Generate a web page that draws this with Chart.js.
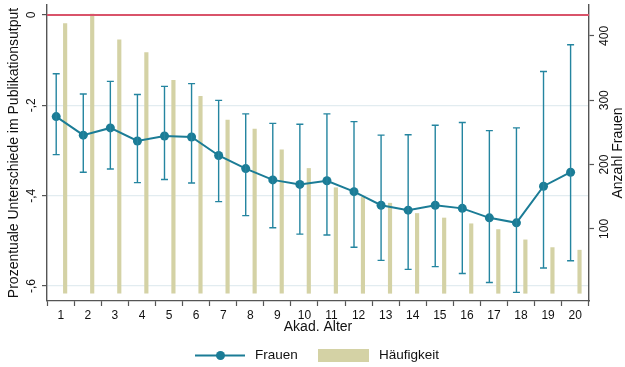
<!DOCTYPE html>
<html>
<head>
<meta charset="utf-8">
<script src="https://cdn.jsdelivr.net/npm/chart.js@4/dist/chart.umd.min.js"></script>
<style>
  html, body { margin: 0; padding: 0; background: #fff; }
  #wrap { width: 625px; height: 367px; position: relative; }
</style>
</head>
<body>
<div id="wrap"><canvas id="c" width="625" height="367"></canvas></div>
<script>
// Akademisches Alter (Jahre seit Promotion)
const ages = [1, 2, 3, 4, 5, 6, 7, 8, 9, 10, 11, 12, 13, 14, 15, 16, 17, 18, 19, 20];
// Prozentuale Unterschiede im Publikationsoutput (Frauen)
const meanDiff = [-0.225, -0.266, -0.250, -0.279, -0.268, -0.270, -0.311, -0.340, -0.365, -0.375,
                  -0.367, -0.391, -0.421, -0.432, -0.421, -0.428, -0.449, -0.460, -0.379, -0.348];
// Konfidenzintervall, obere und untere Grenze
const ciUpper = [-0.130, -0.175, -0.147, -0.176, -0.158, -0.152, -0.189, -0.219, -0.240, -0.242,
                 -0.219, -0.236, -0.266, -0.265, -0.244, -0.238, -0.256, -0.250, -0.125, -0.066];
const ciLower = [-0.309, -0.348, -0.341, -0.371, -0.364, -0.372, -0.413, -0.444, -0.471, -0.485,
                 -0.487, -0.514, -0.543, -0.563, -0.557, -0.572, -0.592, -0.614, -0.560, -0.544];
// Anzahl Frauen je Alter (Häufigkeit)
const counts = [419, 434, 394, 374, 331, 306, 269, 255, 223, 194,
                164, 149, 140, 124, 117, 108, 99, 83, 71, 67];
// Achsenbeschriftungen
const leftTicks = [0, -0.2, -0.4, -0.6];
const leftTickLabels = ['0', '-,2', '-,4', '-,6'];
const rightTicks = [100, 200, 300, 400];
const rightTickLabels = ['100', '200', '300', '400'];

const FONT = "'Liberation Sans', Arial, Helvetica, sans-serif";
const TEAL = '#1b7c96';
const KHAKI = '#d4d2a5';
const AXIS = '#555555';
const GRID = '#e2ecf0';

const errorBarsAndLabels = {
  id: 'errorBarsAndLabels',
  afterDatasetsDraw(chart) {
    const { ctx, scales } = chart;
    const x = scales.x, y = scales.y;
    ctx.save();
    // Konfidenzintervalle
    ctx.strokeStyle = '#2485a0';
    ctx.lineWidth = 1.4;
    ages.forEach((a, i) => {
      const px = x.getPixelForValue(a - 0.17);
      const top = y.getPixelForValue(ciUpper[i]);
      const bot = y.getPixelForValue(ciLower[i]);
      ctx.beginPath();
      ctx.moveTo(px, top); ctx.lineTo(px, bot);
      ctx.moveTo(px - 3.5, top); ctx.lineTo(px + 3.5, top);
      ctx.moveTo(px - 3.5, bot); ctx.lineTo(px + 3.5, bot);
      ctx.stroke();
    });
    // Referenzlinie bei 0
    ctx.strokeStyle = '#d9536a';
    ctx.lineWidth = 2;
    const y0 = y.getPixelForValue(0);
    ctx.beginPath();
    ctx.moveTo(chart.chartArea.left, y0);
    ctx.lineTo(chart.chartArea.right, y0);
    ctx.stroke();
    ctx.restore();
  },
  afterDraw(chart) {
    const { ctx, scales, chartArea } = chart;
    const rot = (text, cx, cy, font) => {
      ctx.save();
      ctx.translate(cx, cy);
      ctx.rotate(-Math.PI / 2);
      ctx.font = font;
      ctx.fillStyle = '#111';
      ctx.textAlign = 'center';
      ctx.textBaseline = 'middle';
      ctx.fillText(text, 0, 0);
      ctx.restore();
    };
    const midY = (chartArea.top + chartArea.bottom) / 2;
    // linke Achse
    leftTicks.forEach((v, i) => rot(leftTickLabels[i], 32, scales.y.getPixelForValue(v), '12px ' + FONT));
    rot('Prozentuale Unterschiede im Publikationsutput', 14, midY, '14px ' + FONT);
    // rechte Achse
    rightTicks.forEach((v, i) => rot(rightTickLabels[i], 605, scales.y2.getPixelForValue(v), '12px ' + FONT));
    rot('Anzahl Frauen', 618, midY, '14px ' + FONT);
    // x-Achsentitel
    ctx.save();
    ctx.font = '14px ' + FONT;
    ctx.fillStyle = '#111';
    ctx.textAlign = 'center';
    ctx.textBaseline = 'middle';
    ctx.fillText('Akad. Alter', (chartArea.left + chartArea.right) / 2, 327);
    // Legende
    const ly = 355.5;
    ctx.strokeStyle = TEAL;
    ctx.lineWidth = 2;
    ctx.beginPath();
    ctx.moveTo(195, ly); ctx.lineTo(245, ly);
    ctx.stroke();
    ctx.fillStyle = TEAL;
    ctx.beginPath();
    ctx.arc(220.5, ly, 4.5, 0, Math.PI * 2);
    ctx.fill();
    ctx.font = '13.5px ' + FONT;
    ctx.fillStyle = '#111';
    ctx.textAlign = 'left';
    ctx.fillText('Frauen', 255, ly);
    ctx.fillStyle = KHAKI;
    ctx.fillRect(318, 349, 51, 13);
    ctx.fillStyle = '#111';
    ctx.fillText('Häufigkeit', 379, ly);
    ctx.restore();
  }
};

new Chart(document.getElementById('c'), {
  type: 'bar',
  data: {
    datasets: [
      {
        type: 'line',
        label: 'Frauen',
        data: ages.map((a, i) => ({ x: a - 0.17, y: meanDiff[i] })),
        yAxisID: 'y',
        borderColor: TEAL,
        backgroundColor: TEAL,
        borderWidth: 2,
        pointRadius: 4.5,
        pointBorderWidth: 0,
        pointBackgroundColor: TEAL,
        tension: 0,
        order: 1
      },
      {
        type: 'bar',
        label: 'Häufigkeit',
        data: ages.map((a, i) => ({ x: a + 0.16, y: counts[i] })),
        yAxisID: 'y2',
        backgroundColor: KHAKI,
        borderWidth: 0,
        barThickness: 3.5,
        order: 2
      }
    ]
  },
  options: {
    responsive: false,
    animation: false,
    layout: { padding: { top: 5, left: 0, right: 0, bottom: 0 } },
    plugins: { legend: { display: false }, tooltip: { enabled: false } },
    scales: {
      x: {
        type: 'linear',
        min: 0.49,
        max: 20.51,
        offset: false,
        afterBuildTicks: s => { s.ticks = ages.map(v => ({ value: v })); },
        afterFit: s => { s.height = 66; },
        ticks: {
          autoSkip: false,
          maxRotation: 0,
          padding: 2,
          color: '#111',
          font: { family: FONT, size: 12 },
          callback: v => String(v)
        },
        grid: { drawOnChartArea: false, drawTicks: true, tickLength: 5, tickColor: AXIS, tickWidth: 1.2 },
        border: { color: AXIS, width: 1.2 }
      },
      y: {
        position: 'left',
        min: -0.633,
        max: 0.022,
        afterBuildTicks: s => { s.ticks = leftTicks.map(v => ({ value: v })); },
        afterFit: s => { s.width = 47; },
        ticks: { display: false },
        grid: {
          color: ctx => (ctx.tick && ctx.tick.value === 0 ? 'rgba(0,0,0,0)' : GRID),
          lineWidth: 1.2,
          drawTicks: true,
          tickLength: 5,
          tickColor: AXIS,
          tickWidth: 1.2
        },
        border: { color: AXIS, width: 1.4 }
      },
      y2: {
        position: 'right',
        min: -12,
        max: 448,
        afterBuildTicks: s => { s.ticks = rightTicks.map(v => ({ value: v })); },
        afterFit: s => { s.width = 36; },
        ticks: { display: false },
        grid: { drawOnChartArea: false, drawTicks: true, tickLength: 5, tickColor: AXIS, tickWidth: 1.2 },
        border: { color: AXIS, width: 1.4 }
      }
    }
  },
  plugins: [errorBarsAndLabels]
});
</script>
</body>
</html>
